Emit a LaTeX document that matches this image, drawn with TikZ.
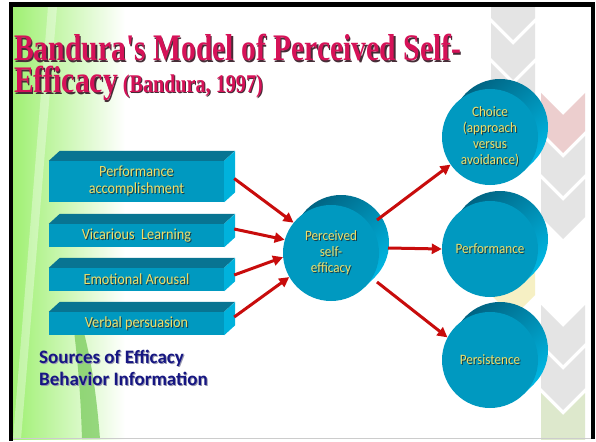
\documentclass[tikz,border=0pt]{standalone}
\usepackage{fontspec}
\usetikzlibrary{arrows.meta}
\newfontfamily\titlefont[FakeStretch=0.79,Ligatures=TeXOff]{Liberation Serif}
\newfontfamily\bodyfont[FakeStretch=0.92]{Carlito}
\newfontfamily\srcfont{Carlito}
\definecolor{titlered}{RGB}{214,18,88}
\definecolor{tshadow}{RGB}{70,45,55}
\definecolor{boxfront}{RGB}{0,153,192}
\definecolor{boxtop}{RGB}{8,116,146}
\definecolor{boxside}{RGB}{0,178,220}
\definecolor{rimdark}{RGB}{0,95,125}
\definecolor{rimmid}{RGB}{0,150,195}
\definecolor{rimbright}{RGB}{0,190,235}
\definecolor{txtyellow}{RGB}{238,222,105}
\definecolor{txtshadow}{RGB}{20,60,75}
\definecolor{arrowred}{RGB}{200,12,12}
\definecolor{navy}{RGB}{22,22,130}
\definecolor{srcshadow}{RGB}{150,150,175}
\definecolor{chevgrey}{RGB}{228,228,228}
\definecolor{chevred}{RGB}{236,206,206}
\definecolor{chevyellow}{RGB}{246,240,196}
\definecolor{chevgreen}{RGB}{221,232,204}
\definecolor{green1}{RGB}{160,240,115}
\definecolor{green2}{RGB}{205,250,182}
\definecolor{bandgreen}{RGB}{115,200,85}
\newcommand\shd[3]{\leavevmode\rlap{\kern#2\raisebox{-#2}{\textcolor{#3}{#1}}}#1}
\newcommand\ys[1]{\shd{#1}{1pt}{txtshadow}}
\newcommand\chev[5]{%
  \fill[#5] (#1,#3) -- ({(#1+#2)/2},#3+22) -- (#2,#3) -- (#2,#3+#4)
    -- ({(#1+#2)/2},#3+#4+22) -- (#1,#3+#4) -- cycle;}
\newcommand\rim[2]{%
  \begin{scope}
    \clip (#1+10,#2-10) circle[radius=48pt];
    \shade[top color=rimdark,middle color=rimmid,bottom color=rimbright,shading angle=40] (#1-50,#2-60) rectangle (#1+60,#2+50);
  \end{scope}
  \begin{scope}
    \clip (#1+33.94,#2+33.94) -- (#1+43.94,#2+23.94) -- (#1-23.94,#2-43.94) -- (#1-33.94,#2-23.94) -- cycle;
    \shade[top color=rimdark,middle color=rimmid,bottom color=rimbright,shading angle=40] (#1-50,#2-60) rectangle (#1+60,#2+50);
  \end{scope}}
\newcommand\boxfaces[1]{%
  \fill[boxtop] (#1.north west) -- ++(11,-10) -- ++(175,0) -- (#1.north east) -- cycle;
  \fill[boxside] (#1.north east) -- ++(11,-10) -- ([shift={(11pt,10pt)}]#1.south east) -- (#1.south east) -- cycle;}
\begin{document}
\begin{tikzpicture}[x=1pt,y=-1pt,
  srcbox/.style={rectangle, fill=boxfront, minimum width=175pt, inner sep=0pt,
    text=txtyellow, font=\bodyfont\fontsize{15.5}{17}\selectfont, align=center},
  disc/.style={circle, fill=boxfront, minimum size=96pt, inner sep=0pt,
    text=txtyellow, font=\bodyfont\fontsize{14.3}{16}\selectfont, align=center},
  titletext/.style={anchor=base west, inner sep=0pt, text=titlered,
    font=\titlefont\bfseries\fontsize{37.5}{40}\selectfont},
  arr/.style={draw=arrowred, line width=3pt, -{Triangle[length=10pt,width=10pt]}}]
\useasboundingbox (0,0) rectangle (596,441);
\fill[white] (0,0) rectangle (596,441);
% left green background
\shade[left color=green1, middle color=green2, right color=white] (13,7) rectangle (125,439);
\fill[white, opacity=0.35] (48,7) -- (57,7) -- (21,439) -- (13,439) -- cycle;
\fill[bandgreen, opacity=0.7] (73,322) .. controls (80,380) and (81,410) .. (82,439)
  -- (100,439) .. controls (97,400) and (92,360) .. (81,322) -- cycle;
% chevrons
\begin{scope}
  \clip (13,7) rectangle (591,439);
  \chev{491}{535}{-17}{35}{chevgrey}
  \chev{491}{535}{23}{35}{chevgrey}
  \chev{491}{535}{63}{35}{chevgrey}
  \chev{491}{535}{250}{45}{chevyellow}
  \chev{541}{585}{93}{38}{chevred}
  \chev{541}{585}{136}{38}{chevgrey}
  \chev{541}{585}{179}{38}{chevgrey}
  \chev{541}{585}{305}{38}{chevgrey}
  \chev{541}{585}{348}{40}{chevgrey}
  \chev{541}{585}{393}{60}{chevgreen}
\end{scope}
% frame
\fill[black] (9,2) rectangle (595,7);
\fill[black] (9,2) rectangle (13,441);
\fill[black] (591,2) rectangle (595,439);
\draw[black!20, line width=1pt] (13,438.5) -- (591,438.5);
% title
\node[titletext] (t1) at (14,61) {\shd{Bandura's Model of Perceived Self-}{1.3pt}{tshadow}};
\node[titletext] (t2) at (14,93) {\shd{Efficacy}{1.3pt}{tshadow}{\fontsize{25.5}{28}\selectfont\ \shd{(Bandura, 1997)}{1pt}{tshadow}}};
% source boxes
\node[srcbox, minimum height=41pt] (b1) at (136.5,181.5) {\ys{Performance}\\\ys{accomplishment}};
\node[srcbox, minimum height=23pt] (b2) at (136.5,235.5) {\ys{Vicarious\ \ Learning}};
\node[srcbox, minimum height=23pt] (b3) at (136.5,279.5) {\ys{Emotional Arousal}};
\node[srcbox, minimum height=23pt] (b4) at (136.5,323.5) {\ys{Verbal persuasion}};
\boxfaces{b1}\boxfaces{b2}\boxfaces{b3}\boxfaces{b4}
% circles
\rim{331}{253}
\rim{490}{137}
\rim{490}{249}
\rim{490}{360}
\node[disc] (p) at (331,253) {\ys{Perceived}\\\ys{self-}\\\ys{efficacy}};
\node[disc] (ch) at (490,137) {\ys{Choice}\\\ys{(approach}\\\ys{versus}\\\ys{avoidance)}};
\node[disc] (pf) at (490,249) {\ys{Performance}};
\node[disc] (ps) at (490,360) {\ys{Persistence}};
% sources label
\node[anchor=west, inner sep=0pt, align=left, text=navy,
  font=\srcfont\bfseries\fontsize{19}{22}\selectfont] (src) at (39,368)
  {\shd{Sources of Efficacy}{1pt}{srcshadow}\\\shd{Behavior Information}{1pt}{srcshadow}};
% arrows
\draw[arr] ([shift={(10pt,3pt)}]b1.east) -- (p.141);
\draw[arr] ([shift={(10pt,6.5pt)}]b2.east) -- (p.164);
\draw[arr] ([shift={(10pt,4.5pt)}]b3.east) -- (p.185);
\draw[arr] ([shift={(10pt,6.5pt)}]b4.east) -- (p.210);
\draw[arr] ([shift={(46pt,33pt)}]p.center) -- (ch.215);
\draw[arr] ([shift={(57pt,5pt)}]p.center) -- (pf.180);
\draw[arr] ([shift={(46pt,-29pt)}]p.center) -- (ps.152);
\end{tikzpicture}
\end{document}
